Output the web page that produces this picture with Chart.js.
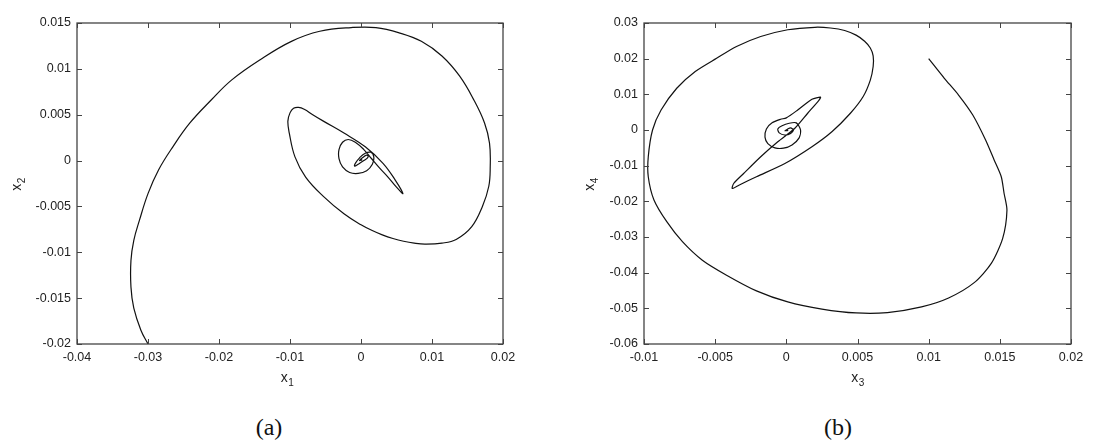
<!DOCTYPE html>
<html>
<head>
<meta charset="utf-8">
<script src="https://cdn.jsdelivr.net/npm/chart.js@4.4.0/dist/chart.umd.min.js"></script>
<style>
  body { margin: 0; background: #fff; width: 1094px; height: 443px; position: relative; overflow: hidden; }
  .panel { position: absolute; top: 0; height: 400px; }
  #panelA { left: 0; width: 550px; }
  #panelB { left: 550px; width: 544px; }
  .caption { position: absolute; top: 413px; line-height: 28px; font-family: "Liberation Serif", "Times New Roman", serif; font-size: 24px; color: #111; transform: translateX(-50%); }
</style>
</head>
<body>
<div class="panel" id="panelA"><canvas id="graficaA"></canvas></div>
<div class="panel" id="panelB"><canvas id="graficaB"></canvas></div>
<div class="caption" style="left:269px">(a)</div>
<div class="caption" style="left:838px">(b)</div>
<script>
// (a) x1 / x2
const x1Vals = [-0.0300, -0.0310, -0.0320, -0.0324, -0.0324, -0.0320, -0.0312, -0.0300, -0.0285, -0.0265,
  -0.0241, -0.0211, -0.0182, -0.0142, -0.0098, -0.0058, -0.0014, 0.0021, 0.0055, 0.0085,
  0.0114, 0.0139, 0.0159, 0.0174, 0.0181, 0.0182, 0.0180, 0.0171, 0.0156, 0.0134,
  0.0114, 0.0090, 0.0075, 0.0060, 0.0045, 0.0030, 0.0015, 0.0000, -0.0024, -0.0053,
  -0.0078, -0.0093, -0.0101, -0.0103, -0.0100, -0.0095, -0.0088, -0.0080, -0.0068, -0.0053,
  -0.0024, 0.0006, 0.0031, 0.0048, 0.0059,
  0.0050, 0.0038, 0.0026, 0.0015, 0.0004, -0.0008, -0.0018, -0.0026, -0.0031, -0.0031,
  -0.0026, -0.0016, -0.0004, 0.0008, 0.0016, 0.0018, 0.0014, 0.0006, -0.0002, -0.0008,
  -0.0009, -0.0004, 0.0004, 0.0010, 0.0008, 0.0002, -0.0002, 0.0001, 0.0000];
const x2Vals = [-0.0200, -0.0185, -0.0161, -0.0138, -0.0109, -0.0087, -0.0065, -0.0036, -0.0010, 0.0015,
  0.0041, 0.0066, 0.0088, 0.0110, 0.0130, 0.0141, 0.0145, 0.0145, 0.0139, 0.0130,
  0.0114, 0.0092, 0.0066, 0.0041, 0.0019, -0.0007, -0.0028, -0.0050, -0.0072, -0.0086,
  -0.0090, -0.0091, -0.0090, -0.0088, -0.0085, -0.0081, -0.0076, -0.0070, -0.0058, -0.0039,
  -0.0018, 0.0004, 0.0030, 0.0043, 0.0052, 0.0057, 0.0058, 0.0056, 0.0050, 0.0043,
  0.0030, 0.0015, -0.0003, -0.0021, -0.0036,
  -0.0029, -0.0018, -0.0008, 0.0002, 0.0012, 0.0020, 0.0023, 0.0020, 0.0012, 0.0002,
  -0.0007, -0.0013, -0.0014, -0.0011, -0.0004, 0.0004, 0.0009, 0.0008, 0.0003, -0.0003,
  -0.0006, -0.0004, 0.0000, 0.0004, 0.0006, 0.0003, 0.0000, 0.0001, 0.0000];

// (b) x3 / x4
const x3Vals = [0.0100, 0.0111, 0.0121, 0.0131, 0.0140, 0.0146, 0.0151, 0.0153, 0.0155, 0.0152,
  0.0144, 0.0132, 0.0114, 0.0095, 0.0071, 0.0049, 0.0025, 0.0001, -0.0021, -0.0042,
  -0.0059, -0.0073, -0.0084, -0.0093, -0.0097, -0.0097, -0.0094, -0.0088, -0.0077, -0.0064,
  -0.0049, -0.0035, -0.0018, 0.0001, 0.0020, 0.0031, 0.0041, 0.0049, 0.0055, 0.0059,
  0.0061, 0.0061, 0.0059, 0.0054, 0.0045, 0.0032, 0.0018, -0.0001, -0.0021, -0.0033,
  -0.0038, -0.0037, -0.0030, -0.0018, -0.0006, 0.0006, 0.0015, 0.0023, 0.0024, 0.0018,
  0.0008, 0.0000, -0.0004, -0.0010, -0.0014, -0.0015, -0.0013, -0.0008, -0.0002, 0.0004,
  0.0009, 0.0010, 0.0007, 0.0002, -0.0003, -0.0006, -0.0005, -0.0001, 0.0003, 0.0005,
  0.0003, 0.0001, -0.0001, 0.0001, 0.0000];
const x4Vals = [0.0200, 0.0145, 0.0098, 0.0042, -0.0028, -0.0084, -0.0131, -0.0178, -0.0225, -0.0304,
  -0.0374, -0.0428, -0.0471, -0.0496, -0.0512, -0.0513, -0.0502, -0.0482, -0.0451, -0.0407,
  -0.0365, -0.0313, -0.0257, -0.0196, -0.0131, -0.0075, 0.0000, 0.0056, 0.0117, 0.0164,
  0.0201, 0.0234, 0.0262, 0.0281, 0.0288, 0.0286, 0.0279, 0.0266, 0.0249, 0.0230,
  0.0208, 0.0178, 0.0140, 0.0094, 0.0047, -0.0005, -0.0047, -0.0094, -0.0131, -0.0154,
  -0.0164, -0.0150, -0.0122, -0.0075, -0.0033, 0.0005, 0.0047, 0.0084, 0.0092, 0.0086,
  0.0056, 0.0034, 0.0030, 0.0020, 0.0003, -0.0020, -0.0038, -0.0050, -0.0051, -0.0042,
  -0.0022, 0.0000, 0.0020, 0.0019, 0.0012, 0.0003, -0.0008, -0.0014, -0.0010, 0.0000,
  0.0006, 0.0003, -0.0002, -0.0001, 0.0000];

const ticksX1 = [-0.04, -0.03, -0.02, -0.01, 0, 0.01, 0.02];
const ticksX2 = [-0.02, -0.015, -0.01, -0.005, 0, 0.005, 0.01, 0.015];
const ticksX3 = [-0.01, -0.005, 0, 0.005, 0.01, 0.015, 0.02];
const ticksX4 = [-0.06, -0.05, -0.04, -0.03, -0.02, -0.01, 0, 0.01, 0.02, 0.03];

const FUENTE = '"Liberation Sans", Arial, Helvetica, sans-serif';

const formatear = v => String(+Number(v).toFixed(4));

// marco, marcas hacia dentro y titulos con subindice
const marcoPlugin = {
  id: 'marco',
  afterDatasetsDraw(chart, args, opts) {
    const { ctx, chartArea: a, scales: { x, y } } = chart;
    ctx.save();
    ctx.strokeStyle = '#444';
    ctx.lineWidth = 1;
    ctx.beginPath();
    x.ticks.forEach(t => {
      const px = Math.round(x.getPixelForValue(t.value)) + 0.5;
      ctx.moveTo(px, a.bottom); ctx.lineTo(px, a.bottom - 5);
      ctx.moveTo(px, a.top); ctx.lineTo(px, a.top + 5);
    });
    y.ticks.forEach(t => {
      const py = Math.round(y.getPixelForValue(t.value)) + 0.5;
      ctx.moveTo(a.left, py); ctx.lineTo(a.left + 5, py);
      ctx.moveTo(a.right, py); ctx.lineTo(a.right - 5, py);
    });
    ctx.stroke();
    ctx.lineWidth = 1.3;
    ctx.strokeRect(a.left, a.top, a.width, a.height);

    const titulo = (base, sub) => {
      ctx.font = `14px ${FUENTE}`;
      const w1 = ctx.measureText(base).width;
      ctx.font = `10px ${FUENTE}`;
      const w2 = ctx.measureText(sub).width;
      const x0 = -(w1 + w2) / 2;
      ctx.font = `14px ${FUENTE}`;
      ctx.fillText(base, x0, 0);
      ctx.font = `10px ${FUENTE}`;
      ctx.fillText(sub, x0 + w1 + 0.5, 4);
    };
    ctx.fillStyle = '#222';
    ctx.textBaseline = 'alphabetic';
    ctx.textAlign = 'left';

    ctx.save();
    ctx.translate((a.left + a.right) / 2 + opts.dx, a.bottom + 38);
    titulo(opts.tituloX[0], opts.tituloX[1]);
    ctx.restore();

    ctx.save();
    ctx.translate(a.left - opts.dy, (a.top + a.bottom) / 2 + 1);
    ctx.rotate(-Math.PI / 2);
    titulo(opts.tituloY[0], opts.tituloY[1]);
    ctx.restore();

    ctx.restore();
  }
};

const ejeConfig = (min, max, valores, ajuste) => ({
  type: 'linear',
  min: min,
  max: max,
  afterBuildTicks: s => { s.ticks = valores.map(v => ({ value: v })); },
  afterFit: ajuste,
  grid: { display: false, drawTicks: false },
  border: { display: false },
  ticks: {
    padding: 6,
    color: '#222',
    autoSkip: false,
    maxRotation: 0,
    font: { family: FUENTE, size: 12.5 },
    callback: v => formatear(v)
  }
});

const crearGrafica = (idCanvas, xs, ys, ejes, extra) => {
  const canvas = document.getElementById(idCanvas);
  if (!canvas) return;
  new Chart(canvas.getContext('2d'), {
    type: 'scatter',
    data: {
      datasets: [{
        data: xs.map((v, i) => ({ x: v, y: ys[i] })),
        showLine: true,
        borderColor: '#111',
        borderWidth: 1.2,
        pointRadius: 0,
        tension: extra.tension,
        fill: false
      }]
    },
    options: {
      responsive: true,
      maintainAspectRatio: false,
      animation: false,
      layout: { padding: { top: 23, right: extra.derecha, bottom: 0, left: 0 } },
      plugins: {
        legend: { display: false },
        tooltip: { enabled: false },
        marco: extra.marco
      },
      scales: ejes
    },
    plugins: [marcoPlugin]
  });
};

crearGrafica('graficaA', x1Vals, x2Vals, {
  x: ejeConfig(-0.04, 0.02, ticksX1, s => { s.height = 56; }),
  y: ejeConfig(-0.02, 0.015, ticksX2, s => { s.width = 77; })
}, { derecha: 47, tension: 0.4, marco: { tituloX: ['x', '1'], tituloY: ['x', '2'], dx: -3, dy: 56 } });

crearGrafica('graficaB', x3Vals, x4Vals, {
  x: ejeConfig(-0.01, 0.02, ticksX3, s => { s.height = 56; }),
  y: ejeConfig(-0.06, 0.03, ticksX4, s => { s.width = 94; })
}, { derecha: 23, tension: 0.25, marco: { tituloX: ['x', '3'], tituloY: ['x', '4'], dx: 0, dy: 50 } });
</script>
</body>
</html>
